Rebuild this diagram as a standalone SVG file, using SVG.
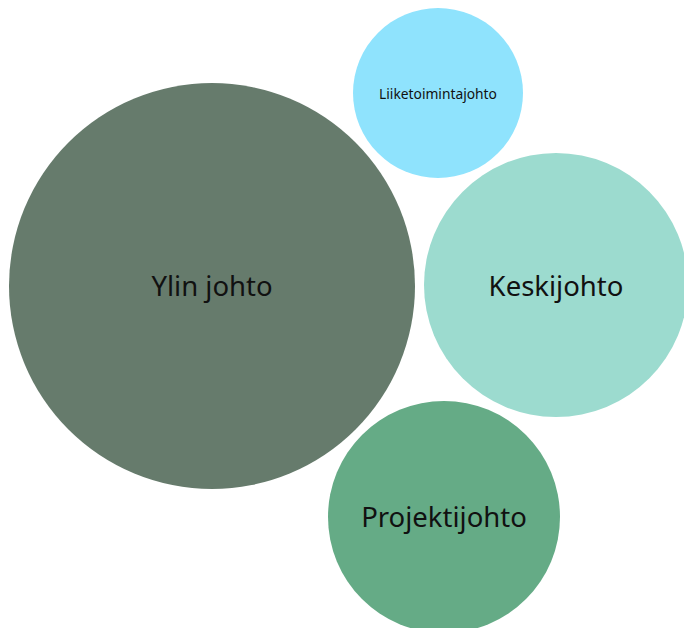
<svg xmlns="http://www.w3.org/2000/svg" width="684" height="628" viewBox="0 0 684 628">
<style>
.lbl{font-family:"Noto Sans","Open Sans",sans-serif;fill:#111;text-anchor:middle;dominant-baseline:central}
.big{font-size:27.5px}
.small{font-size:13.8px}
</style>
<rect width="684" height="628" fill="#ffffff"/>
<g id="connectors"></g>
<g id="ylin">
<circle cx="212" cy="286" r="203" fill="#667B6C"/>
<text class="lbl big" x="212" y="285">Ylin johto</text>
</g>
<g id="liiketoiminta">
<circle cx="438" cy="93" r="85" fill="#8FE3FD"/>
<text class="lbl small" x="438" y="93">Liiketoimintajohto</text>
</g>
<g id="keski">
<circle cx="556" cy="285" r="132" fill="#9CDBCF"/>
<text class="lbl big" x="556" y="285">Keskijohto</text>
</g>
<g id="projekti">
<circle cx="444" cy="517" r="116" fill="#65AB86"/>
<text class="lbl big" x="444" y="516">Projektijohto</text>
</g>
</svg>
